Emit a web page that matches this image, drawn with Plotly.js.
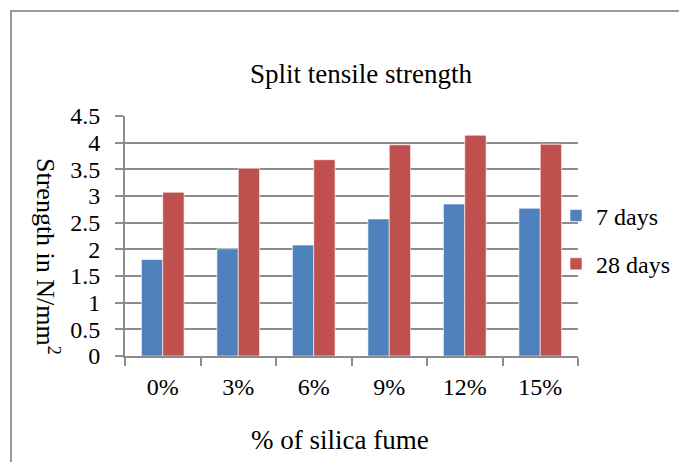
<!DOCTYPE html>
<html>
<head>
<meta charset="utf-8">
<script src="https://cdn.plot.ly/plotly-3.0.1.min.js"></script>
<style>html,body{margin:0;padding:0;background:#fff;}#chart{width:679px;height:462px;}</style>
</head>
<body>
<div id="chart"></div>
<script>
const categories = ['0%', '3%', '6%', '9%', '12%', '15%'];
const days7 = [1.81, 2.01, 2.08, 2.57, 2.85, 2.77];
const days28 = [3.07, 3.52, 3.68, 3.96, 4.14, 3.97];
const seriesNames = ['7 days', '28 days'];
const chartTitle = 'Split tensile strength';
const xTitle = '% of silica fume';
const yTitle = 'Strength in N/mm<sup>2</sup>';

const FONT = '"Liberation Serif", "Times New Roman", "DejaVu Serif", serif';
const L = 125, R = 101, T = 116, B = 106, W = 679, H = 462;
const pw = W - L - R, ph = H - T - B;
const px = x => (x - L) / pw;
const py = y => (H - B - y) / ph;

const traces = [
  {type: 'bar', name: seriesNames[0], x: categories, y: days7, legendgroup: 'a',
   marker: {color: '#4f81bd', line: {color: 'rgba(255,255,255,0.6)', width: 1}}},
  {type: 'bar', name: seriesNames[1], x: categories, y: days28, legendgroup: 'b',
   marker: {color: '#c0504d', line: {color: 'rgba(255,255,255,0.6)', width: 1}}}
];

const layout = {
  width: W, height: H,
  margin: {l: L, r: R, t: T, b: B, pad: 0, autoexpand: false},
  paper_bgcolor: '#ffffff', plot_bgcolor: '#ffffff',
  font: {family: FONT, size: 24, color: '#000'},
  barmode: 'group', bargap: 0.435, bargroupgap: 0,
  showlegend: true,
  legend: {x: px(556), xanchor: 'left', y: py(240), yanchor: 'middle',
           font: {family: FONT, size: 24, color: '#000'},
           traceorder: 'grouped', tracegroupgap: 14, bgcolor: 'rgba(0,0,0,0)'},
  xaxis: {type: 'category', showline: true, linecolor: '#8c8c8c', linewidth: 2,
          ticks: 'outside', tickson: 'boundaries', ticklen: 8, tickwidth: 2, tickcolor: '#8c8c8c',
          showgrid: false, ticklabelstandoff: 8, automargin: false,
          tickfont: {family: FONT, size: 24, color: '#000'}, fixedrange: true},
  yaxis: {range: [0, 4.5], dtick: 0.5, tick0: 0, showline: true, linecolor: '#8c8c8c', linewidth: 2,
          ticks: 'outside', ticklen: 8, tickwidth: 2, tickcolor: '#8c8c8c',
          showgrid: true, gridcolor: '#8c8c8c', gridwidth: 2, zeroline: false,
          ticklabelstandoff: 10, automargin: false,
          tickfont: {family: FONT, size: 24, color: '#000'}, fixedrange: true},
  annotations: [
    {text: chartTitle, xref: 'paper', yref: 'paper', x: px(361), y: py(74),
     xanchor: 'center', yanchor: 'middle', showarrow: false,
     font: {family: FONT, size: 27, color: '#000'}},
    {text: xTitle, xref: 'paper', yref: 'paper', x: px(340), y: py(440),
     xanchor: 'center', yanchor: 'middle', showarrow: false,
     font: {family: FONT, size: 27, color: '#000'}},
    {text: yTitle, xref: 'paper', yref: 'paper', x: px(47), y: py(256),
     xanchor: 'center', yanchor: 'middle', showarrow: false, textangle: 90,
     font: {family: FONT, size: 26, color: '#000'}}
  ],
  shapes: [
    {type: 'rect', xref: 'paper', yref: 'paper', x0: px(11), x1: px(700), y0: py(490), y1: py(11),
     line: {color: '#999999', width: 2}, fillcolor: 'rgba(0,0,0,0)', layer: 'below'}
  ]
};

Plotly.newPlot('chart', traces, layout, {displayModeBar: false, staticPlot: true});
</script>
</body>
</html>
